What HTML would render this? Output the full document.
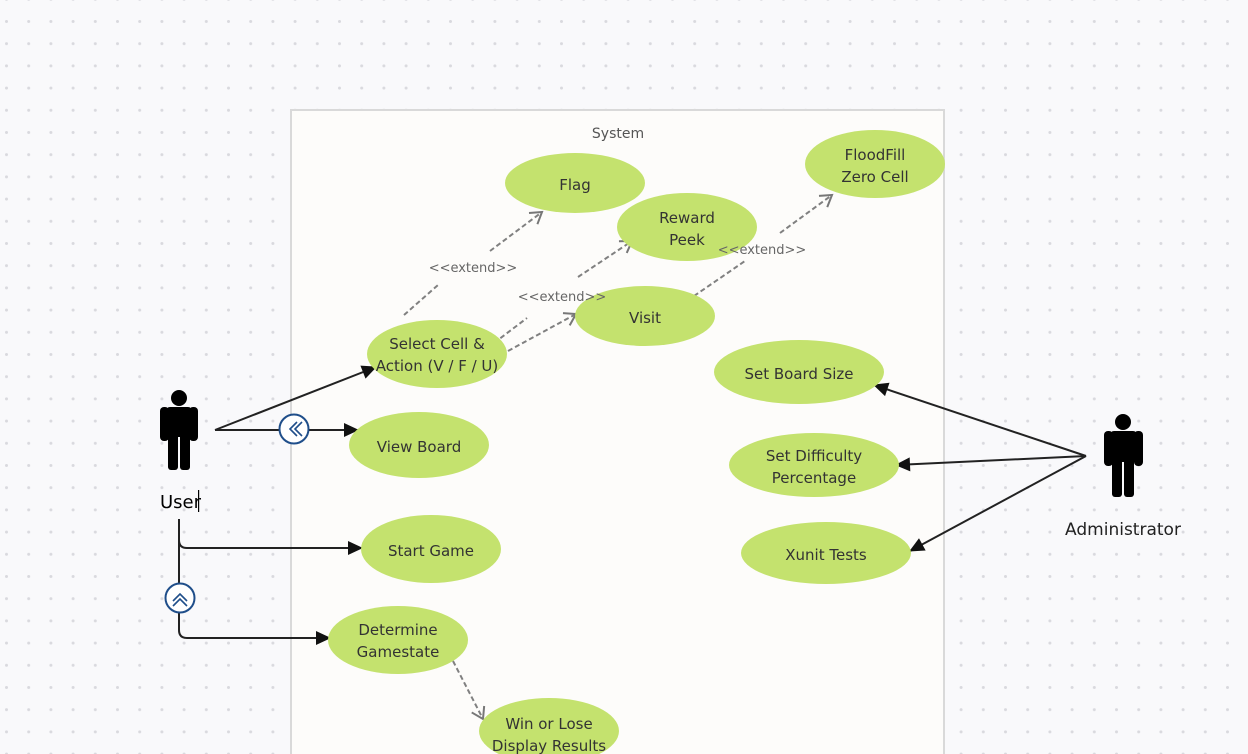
<!DOCTYPE html>
<html><head><meta charset="utf-8"><style>
html,body{margin:0;padding:0;background:#f9f9fb;}
svg{display:block;font-family:"DejaVu Sans","Liberation Sans",sans-serif;}
</style></head><body>
<svg width="1248" height="754" viewBox="0 0 1248 754" xmlns="http://www.w3.org/2000/svg">
<defs>
<pattern id="dots" x="5" y="20" width="22.2" height="22.2" patternUnits="userSpaceOnUse">
<circle cx="1.5" cy="1.5" r="1.5" fill="#d9d9de"/>
</pattern>
<marker id="arr" markerWidth="18" markerHeight="16" refX="14" refY="8" orient="auto" markerUnits="userSpaceOnUse" overflow="visible">
<path d="M0,1 L15,8 L0,15 Z" fill="#111"/>
</marker>
<marker id="open" markerWidth="16" markerHeight="16" refX="12" refY="8" orient="auto" markerUnits="userSpaceOnUse" overflow="visible">
<path d="M1,1 L12,8 L1,15" fill="none" stroke="#777" stroke-width="2"/>
</marker>
</defs>
<rect width="1248" height="754" fill="#f9f9fb"/>
<rect width="1248" height="754" fill="url(#dots)"/>
<rect x="291" y="110" width="653" height="650" fill="#fdfcfa" stroke="#d9d9d9" stroke-width="2"/>
<text x="618" y="138" font-size="14" fill="#555" text-anchor="middle">System</text>

<!-- dashed extends -->
<g stroke="#808080" stroke-width="2" stroke-dasharray="5,3" fill="none">
<path d="M404,315 L438,285" /><path d="M490,251 L542,212" marker-end="url(#open)"/>
<path d="M494,343 L527,318" /><path d="M578,277 L632,241" marker-end="url(#open)"/>
<path d="M508,351 L576,314" marker-end="url(#open)"/>
<path d="M694,296 L745,261" /><path d="M780,233 L832,195" marker-end="url(#open)"/>
<path d="M453,661 L483,719" marker-end="url(#open)"/>
</g>

<!-- solid arrows -->
<g stroke="#222" stroke-width="2" fill="none">
<path d="M215,430 L376,367" marker-end="url(#arr)"/>
<path d="M215,430 L358,430" marker-end="url(#arr)"/>
<path d="M179,519 L179,540 Q179,548 187,548 L362,548" marker-end="url(#arr)"/>
<path d="M179,540 L179,630 Q179,638 187,638 L330,638" marker-end="url(#arr)"/>
<path d="M1086,456 L874,385" marker-end="url(#arr)"/>
<path d="M1086,456 L896,465" marker-end="url(#arr)"/>
<path d="M1086,456 L910,551" marker-end="url(#arr)"/>
</g>
<!-- circle icons -->
<circle cx="294" cy="429" r="14.5" fill="#fff" stroke="#1f4e8a" stroke-width="2"/>
<path d="M297,422 L290,429 L297,436 M302,422 L295,429 L302,436" fill="none" stroke="#1f4e8a" stroke-width="1.6"/>
<circle cx="180" cy="598" r="14.5" fill="#fff" stroke="#1f4e8a" stroke-width="2"/>
<path d="M173,601 L180,594 L187,601 M173,606 L180,599 L187,606" fill="none" stroke="#1f4e8a" stroke-width="1.6"/>

<!-- ellipses -->
<g fill="#c4e26e">
<ellipse cx="575" cy="183" rx="70" ry="30"/>
<ellipse cx="687" cy="227" rx="70" ry="34"/>
<ellipse cx="875" cy="164" rx="70" ry="34"/>
<ellipse cx="645" cy="316" rx="70" ry="30"/>
<ellipse cx="437" cy="354" rx="70" ry="34"/>
<ellipse cx="419" cy="445" rx="70" ry="33"/>
<ellipse cx="431" cy="549" rx="70" ry="34"/>
<ellipse cx="398" cy="640" rx="70" ry="34"/>
<ellipse cx="549" cy="731" rx="70" ry="33"/>
<ellipse cx="799" cy="372" rx="85" ry="32"/>
<ellipse cx="814" cy="465" rx="85" ry="32"/>
<ellipse cx="826" cy="553" rx="85" ry="31"/>
</g>
<g font-size="13" fill="#666" text-anchor="middle">
<text x="473" y="272">&lt;&lt;extend&gt;&gt;</text>
<text x="562" y="301">&lt;&lt;extend&gt;&gt;</text>
<text x="762" y="254">&lt;&lt;extend&gt;&gt;</text>
</g>
<g font-size="15" fill="#333" text-anchor="middle">
<text x="575" y="190">Flag</text>
<text x="687" y="223">Reward</text><text x="687" y="245">Peek</text>
<text x="875" y="160">FloodFill</text><text x="875" y="182">Zero Cell</text>
<text x="645" y="323">Visit</text>
<text x="437" y="349">Select Cell &amp;</text><text x="437" y="371">Action (V / F / U)</text>
<text x="419" y="452">View Board</text>
<text x="431" y="556">Start Game</text>
<text x="398" y="635">Determine</text><text x="398" y="657">Gamestate</text>
<text x="549" y="729">Win or Lose</text><text x="549" y="751">Display Results</text>
<text x="799" y="379">Set Board Size</text>
<text x="814" y="461">Set Difficulty</text><text x="814" y="483">Percentage</text>
<text x="826" y="560">Xunit Tests</text>
</g>

<!-- actors -->
<g fill="#000">
<circle cx="179" cy="398" r="8"/>
<rect x="166" y="407" width="26" height="30" rx="4"/>
<rect x="160" y="407" width="9" height="34" rx="4"/>
<rect x="189" y="407" width="9" height="34" rx="4"/>
<rect x="168" y="430" width="10" height="40" rx="3"/>
<rect x="180" y="430" width="10" height="40" rx="3"/>
<circle cx="1123" cy="422" r="8"/>
<rect x="1110" y="431" width="27" height="31" rx="4"/>
<rect x="1104" y="431" width="9" height="35" rx="4"/>
<rect x="1134" y="431" width="9" height="35" rx="4"/>
<rect x="1112" y="455" width="10" height="42" rx="3"/>
<rect x="1124" y="455" width="10" height="42" rx="3"/>
</g>
<text x="160" y="508" font-size="18" fill="#000">User</text>
<rect x="198" y="490" width="1.2" height="22" fill="#000"/>
<text x="1123" y="535" font-size="17" fill="#222" text-anchor="middle">Administrator</text>
</svg>
</body></html>
